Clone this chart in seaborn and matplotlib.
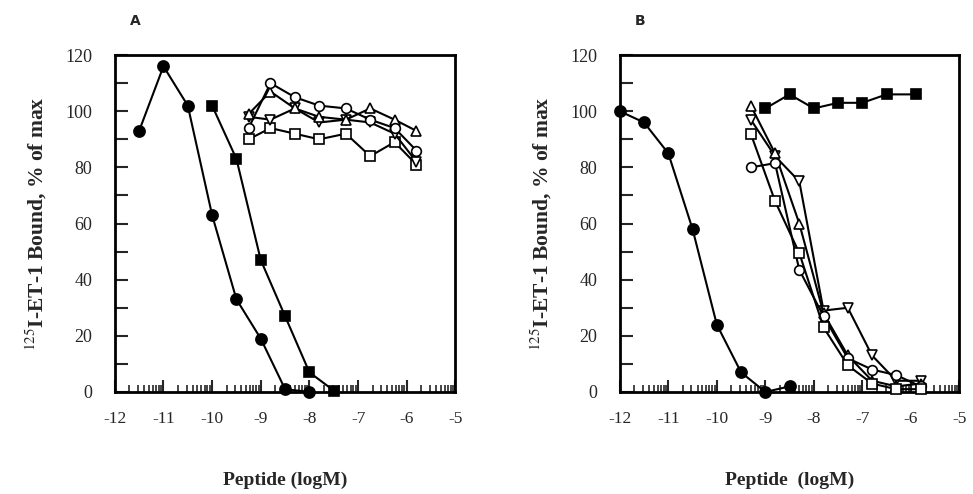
import numpy as np
import pandas as pd
import matplotlib
matplotlib.use("Agg")
import matplotlib.pyplot as plt
import seaborn as sns

# ---- datos ----
# Panel A
a_fill_circ_x = [-11.5, -11.0, -10.5, -10.0, -9.5, -9.0, -8.5, -8.0]
a_fill_circ_y = [93, 116, 102, 63, 33, 19, 1, 0]
a_fill_sq_x = [-10.0, -9.5, -9.0, -8.5, -8.0, -7.5]
a_fill_sq_y = [102, 83, 47, 27, 7, 0.5]
a_open_x = [-9.25, -8.8, -8.3, -7.8, -7.25, -6.75, -6.25, -5.8]
a_open_circ_y = [94, 110, 105, 102, 101, 97, 94, 86]
a_open_tri_y = [99, 107, 101, 98, 97, 101, 97, 93]
a_open_dtri_y = [98, 97, 101, 96, 97, 96, 92, 82]
a_open_sq_y = [90, 94, 92, 90, 92, 84, 89, 81]

# Panel B
b_fill_circ_x = [-12.0, -11.5, -11.0, -10.5, -10.0, -9.5, -9.0, -8.5]
b_fill_circ_y = [100, 96, 85, 58, 24, 7, 0, 2]
b_fill_sq_x = [-9.0, -8.5, -8.0, -7.5, -7.0, -6.5, -5.9]
b_fill_sq_y = [101, 106, 101, 103, 103, 106, 106]
b_open_x = [-9.3, -8.8, -8.3, -7.8, -7.3, -6.8, -6.3, -5.8]
b_open_circ_y = [80, 81.5, 43.5, 27, 12, 8, 6, 2]
b_open_tri_y = [102, 85, 60, 28, 13, 4, 2, 3]
b_open_dtri_y = [97, 84, 75, 29, 30, 13, 4, 4]
b_open_sq_y = [92, 68, 49.5, 23, 9.5, 3, 1, 1]

x_ticks = [-12, -11, -10, -9, -8, -7, -6, -5]
y_ticks = [0, 20, 40, 60, 80, 100, 120]

sns.set_style("ticks")
plt.rcParams["font.family"] = ["Liberation Serif", "DejaVu Serif"]
plt.rcParams["mathtext.fontset"] = "stix"
plt.rcParams["axes.unicode_minus"] = False


def dibujar_serie(ax, x, y, marker, filled, ms):
    df = pd.DataFrame({"x": x, "y": y})
    sns.lineplot(data=df, x="x", y="y", ax=ax, color="black", lw=1.5,
                 marker=marker, markersize=ms,
                 markerfacecolor="black" if filled else "white",
                 markeredgecolor="black", markeredgewidth=1.2,
                 clip_on=False, zorder=3)


def formatear(ax, letra, etiqueta_x):
    ax.set_xlim(-12, -5)
    ax.set_ylim(0, 120)
    ax.set_xticks(x_ticks)
    ax.set_xticklabels([str(t) for t in x_ticks], fontsize=12.5)
    minors = [d + np.log10(m) for d in range(-12, -5) for m in range(2, 10)]
    ax.set_xticks(minors, minor=True)
    ax.set_yticks(y_ticks)
    ax.set_yticklabels([str(t) for t in y_ticks], fontsize=13)
    ax.set_yticks(range(10, 120, 20), minor=True)
    ax.tick_params(axis="x", which="major", direction="in", length=9, width=1.5, pad=14)
    ax.tick_params(axis="x", which="minor", direction="in", length=5, width=1.2)
    ax.tick_params(axis="y", which="both", direction="in", length=9, width=1.5, pad=16)
    for s in ax.spines.values():
        s.set_linewidth(2)
        s.set_color("black")
    ax.set_xlabel(etiqueta_x, fontsize=14, fontweight="bold", labelpad=32)
    ax.set_ylabel("$^{125}$I-ET-1 Bound, % of max", fontsize=15.5,
                  fontweight="bold", labelpad=12)
    ax.text(0.06, 1.10, letra, transform=ax.transAxes, fontsize=10,
            fontweight="bold", family="DejaVu Sans", ha="center", va="center")


fig = plt.figure(figsize=(9.73, 4.94), dpi=100)
ax_a = fig.add_axes([0.118, 0.2065, 0.350, 0.682])
ax_b = fig.add_axes([0.637, 0.2065, 0.349, 0.682])

# Panel A
dibujar_serie(ax_a, a_open_x, a_open_sq_y, "s", False, 6.5)
dibujar_serie(ax_a, a_open_x, a_open_dtri_y, "v", False, 7)
dibujar_serie(ax_a, a_open_x, a_open_tri_y, "^", False, 7)
dibujar_serie(ax_a, a_open_x, a_open_circ_y, "o", False, 7)
dibujar_serie(ax_a, a_fill_circ_x, a_fill_circ_y, "o", True, 8)
dibujar_serie(ax_a, a_fill_sq_x, a_fill_sq_y, "s", True, 7.5)
formatear(ax_a, "A", "Peptide (logM)")

# Panel B
dibujar_serie(ax_b, b_open_x, b_open_dtri_y, "v", False, 7)
dibujar_serie(ax_b, b_open_x, b_open_tri_y, "^", False, 7)
dibujar_serie(ax_b, b_open_x, b_open_circ_y, "o", False, 7)
dibujar_serie(ax_b, b_open_x, b_open_sq_y, "s", False, 6.5)
dibujar_serie(ax_b, b_fill_circ_x, b_fill_circ_y, "o", True, 8)
dibujar_serie(ax_b, b_fill_sq_x, b_fill_sq_y, "s", True, 7.5)
formatear(ax_b, "B", "Peptide  (logM)")

fig.savefig("out.png", dpi=100)
